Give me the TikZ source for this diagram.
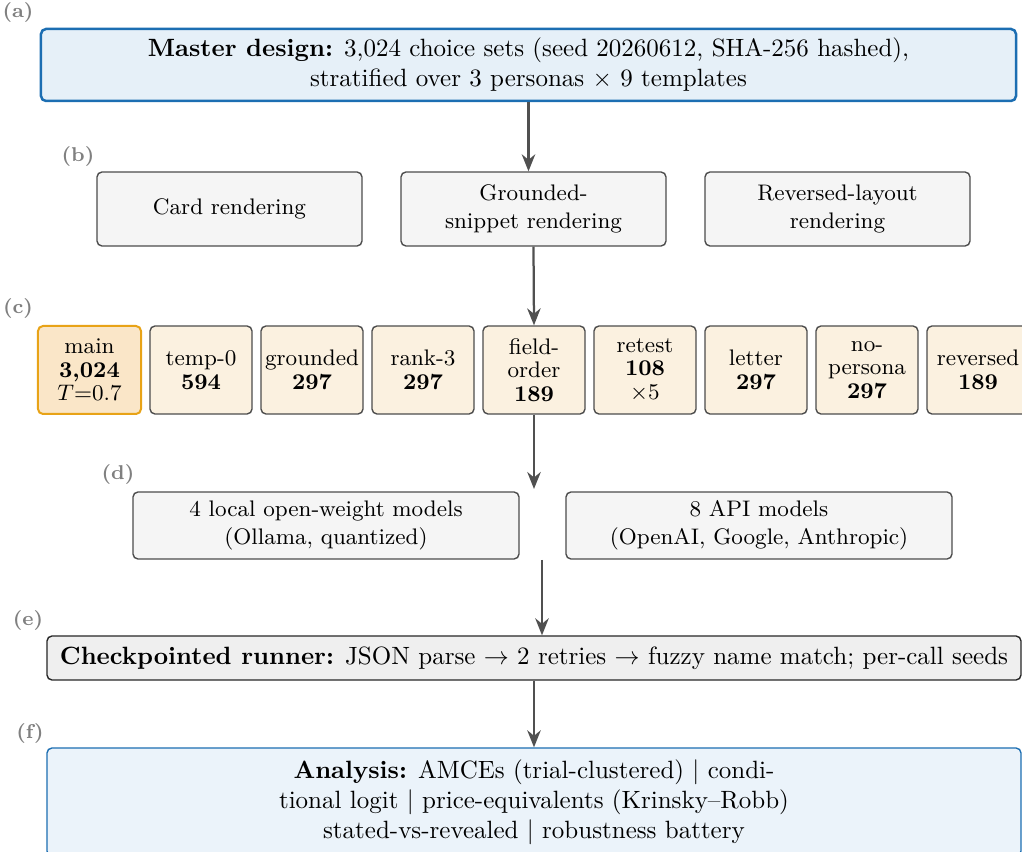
\documentclass[tikz,border=0pt]{standalone}
\usepackage{tikz}
\usetikzlibrary{arrows.meta}

\definecolor{mblue}{RGB}{28,110,178}
\definecolor{mbluefill}{RGB}{230,240,248}
\definecolor{abluefill}{RGB}{235,243,250}
\definecolor{gfill}{RGB}{245,245,245}
\definecolor{rfill}{RGB}{239,239,239}
\definecolor{cream}{RGB}{251,241,224}
\definecolor{mainfill}{RGB}{250,230,200}
\definecolor{mainedge}{RGB}{232,163,23}
\definecolor{tagcol}{RGB}{128,128,128}
\definecolor{arrcol}{RGB}{80,80,80}

\begin{document}
\begin{tikzpicture}
        [x=0.4pt,y=-0.4pt,
        %%%%%%%%%%%%%%%%%%%%%%%%%%%%%%
        tag/.style={font=\footnotesize\bfseries, text=tagcol},
        gbox/.style={draw=black!70, fill=gfill, rounded corners=2pt, line width=0.55pt, align=center, font=\small},
        cond/.style={draw=black!70, fill=cream, rounded corners=2pt, line width=0.55pt, align=center,
                     minimum width=40.8pt, minimum height=35.2pt, inner sep=1pt,
                     font=\fontsize{9}{9.4}\selectfont},
        flow/.style={draw=arrcol, line width=0.9pt, -{Stealth[length=6.8pt,width=5.4pt,inset=2.2pt]}},
        ]%%%%%%%%%%%%%%%%%%%%%%%%%%%%%%
        \useasboundingbox (0,0) rectangle (1022,852);
        % (a) master design
        \node[tag] (taga) at (18,13) {(a)};
        \node[draw=mblue, fill=mbluefill, rounded corners=2pt, line width=1pt, align=center,
              minimum width=390pt, minimum height=28.8pt] (master) at (528.5,65)
              {\textbf{Master design:} 3,024 choice sets (seed 20260612, SHA-256 hashed),\\
               stratified over 3 personas $\times$ 9 templates};
        % (b) renderings
        \node[tag] (tagb) at (78,157) {(b)};
        \node[gbox, minimum width=106pt, minimum height=29.6pt] (card) at (229.5,209) {Card rendering};
        \node[gbox, minimum width=106pt, minimum height=29.6pt] (snippet) at (533.5,209) {Grounded-\\snippet rendering};
        \node[gbox, minimum width=106pt, minimum height=29.6pt] (revlay) at (837.5,209) {Reversed-layout\\rendering};
        % (c) conditions
        \node[tag] (tagc) at (18,309) {(c)};
        \node[cond, draw=mainedge, fill=mainfill, line width=0.8pt, minimum width=41.2pt] (main) at (89.5,370)
              {main\\\textbf{3,024}\\$T$=0.7};
        \foreach \i/\nm/\txt in {1/temp/{temp-0\\\textbf{594}},
                                 2/grounded/{grounded\\\textbf{297}},
                                 3/rank/{rank-3\\\textbf{297}},
                                 4/field/{field-\\order\\\textbf{189}},
                                 5/retest/{retest\\\textbf{108}\\$\times$5},
                                 6/letter/{letter\\\textbf{297}},
                                 7/nopersona/{no-\\persona\\\textbf{297}},
                                 8/reversed/{reversed\\\textbf{189}}}{
          \node[cond] (\nm) at (90+111*\i,370) {\txt};
        }
        % (d) models
        \node[tag] (tagd) at (118,475) {(d)};
        \node[gbox, minimum width=154.4pt, minimum height=26.8pt] (local) at (326,525.5)
              {4 local open-weight models\\(Ollama, quantized)};
        \node[gbox, minimum width=154.4pt, minimum height=26.8pt] (api) at (759,525.5)
              {8 API models\\(OpenAI, Google, Anthropic)};
        \coordinate (din) at (534,489);
        \coordinate (dout) at (542,560);
        % (e) runner
        \node[tag] (tage) at (28,621) {(e)};
        \node[gbox, font=\normalsize, draw=black!85, fill=rfill, minimum width=389.6pt, minimum height=17.6pt] (runner) at (534,658)
              {\textbf{Checkpointed runner:} JSON parse $\rightarrow$ 2 retries $\rightarrow$ fuzzy name match; per-call seeds};
        % (f) analysis
        \node[tag] (tagf) at (30,734) {(f)};
        \node[draw=mblue, fill=abluefill, rounded corners=2pt, line width=0.55pt, align=center,
              minimum width=389.6pt, minimum height=43.2pt] (analysis) at (534,802)
              {\textbf{Analysis:} AMCEs (trial-clustered) \textbar{} condi-\\
               tional logit \textbar{} price-equivalents (Krinsky--Robb)\\
               stated-vs-revealed \textbar{} robustness battery};
        % Arrows
        \draw[flow] (master.south) -- (master.south |- snippet.north);
        \draw[flow] (snippet.south) -- (field.north);
        \draw[flow] (field.south) -- (din);
        \draw[flow] (dout) -- (dout |- runner.north);
        \draw[flow] (runner.south) -- (analysis.north);
      \end{tikzpicture}
\end{document}
